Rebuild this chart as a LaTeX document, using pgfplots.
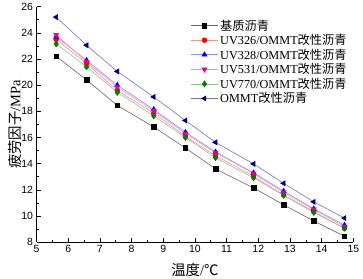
\documentclass[border=0pt]{standalone}
\usepackage{fontspec}
\setmainfont{Liberation Serif}
\setsansfont{Liberation Sans}
\newfontfamily\cjk{Noto Sans CJK SC}
\usepackage{pgfplots}
\pgfplotsset{compat=1.18}
\definecolor{navyb}{RGB}{0,0,128}
\definecolor{dgreen}{RGB}{0,128,0}
\newcommand{\gx}{{\cjk 改性沥青}}
\begin{document}
\begin{tikzpicture}
\begin{axis}[
  at={(0,0)}, anchor=south west,
  scale only axis, width=318.3pt, height=236.6pt,
  xmin=5, xmax=15, ymin=8, ymax=26,
  xtick={5,6,...,15}, ytick={8,10,...,26},
  minor x tick num=1, minor y tick num=1,
  axis lines*=left, tick align=inside,
  major tick length=4pt, minor tick length=2pt,
  every tick/.style={black, line width=0.6pt},
  axis line style={line width=0.8pt},
  /pgf/number format/assume math mode=true,
  ticklabel style={font=\sffamily\fontsize{10.5}{12}\selectfont},
  xlabel={{\cjk 温度}/{\cjk ℃}},
  ylabel={{\cjk 疲劳因子}/MPa},
  label style={font=\fontsize{14.5}{16}\selectfont},
  xlabel style={at={(axis description cs:0.5,-0.118)}, anchor=center},
  ylabel style={at={(axis description cs:-0.068,0.5)}, anchor=center},
  legend cell align=left,
  legend style={draw=none, fill=none, at={(0.483,0.958)}, anchor=north west,
    font=\fontsize{12.3}{13.5}\selectfont, row sep=-1.2pt,
    inner xsep=1pt, inner ysep=1pt},
  legend image code/.code={\draw[mark repeat=2,mark phase=2] plot coordinates {(0pt,0pt) (13.5pt,0pt) (27pt,0pt)};},
]
\addplot[color=black!60, line width=0.6pt, mark=square*, mark size=2.3pt, mark options={black, fill=black}] coordinates {
(5.62,22.2) (6.58,20.4) (7.55,18.45) (8.7,16.8) (9.7,15.2) (10.65,13.6) (11.85,12.15) (12.8,10.85) (13.75,9.62) (14.72,8.45)};
\addlegendentry{{\cjk 基质沥青}}
\addplot[color=red!45, line width=0.6pt, mark=*, mark size=2.4pt, mark options={red, fill=red}] coordinates {
(5.62,23.5) (6.58,21.65) (7.55,19.6) (8.7,17.85) (9.7,16.1) (10.65,14.6) (11.85,13.05) (12.8,11.6) (13.75,10.35) (14.72,9.05)};
\addlegendentry{UV326/OMMT\gx}
\addplot[color=blue!45, line width=0.6pt, mark=triangle*, mark size=2.9pt, mark options={blue, fill=blue}] coordinates {
(5.62,23.7) (6.58,21.9) (7.55,20.0) (8.7,18.15) (9.7,16.4) (10.65,14.9) (11.85,13.3) (12.8,11.9) (13.75,10.55) (14.72,9.3)};
\addlegendentry{UV328/OMMT\gx}
\addplot[color=magenta!45, line width=0.6pt, mark=triangle*, mark size=2.9pt, mark options={magenta, fill=magenta, rotate=180}] coordinates {
(5.62,23.85) (6.58,21.8) (7.55,19.85) (8.7,18.05) (9.7,16.3) (10.65,14.85) (11.85,13.25) (12.8,11.8) (13.75,10.5) (14.72,9.2)};
\addlegendentry{UV531/OMMT\gx}
\addplot[color=dgreen!45, line width=0.6pt, mark=diamond*, mark size=3pt, mark options={dgreen, fill=dgreen}] coordinates {
(5.62,23.15) (6.58,21.4) (7.55,19.45) (8.7,17.65) (9.7,16.0) (10.65,14.45) (11.85,12.92) (12.8,11.58) (13.75,10.27) (14.72,9.07)};
\addlegendentry{UV770/OMMT\gx}
\addplot[color=navyb!55, line width=0.6pt, mark=triangle*, mark size=2.9pt, mark options={navyb, fill=navyb, rotate=90}] coordinates {
(5.62,25.2) (6.58,23.05) (7.55,21.05) (8.7,19.1) (9.7,17.3) (10.65,15.63) (11.85,13.98) (12.8,12.5) (13.75,11.08) (14.72,9.84)};
\addlegendentry{OMMT\gx}
\end{axis}
\pgfresetboundingbox
\path[use as bounding box] (-36.7pt,-36.7pt) rectangle (328pt,243.3pt);
\end{tikzpicture}
\end{document}
